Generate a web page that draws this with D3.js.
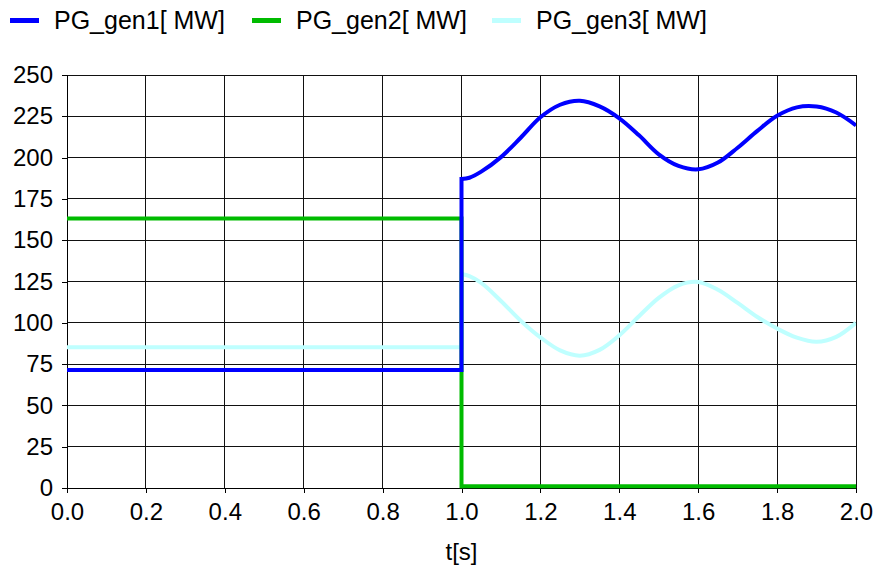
<!DOCTYPE html>
<html>
<head>
<meta charset="utf-8">
<title>PG generators</title>
<style>
    body {
        margin: 0;
        background-color: white;
        font-family: "Liberation Sans", Arial, sans-serif;
    }
    .grid line {
        stroke: #111;
        stroke-width: 1px;
        shape-rendering: crispEdges;
    }
    .axis path, .axis line {
        stroke: #000;
        shape-rendering: crispEdges;
    }
    .axis text {
        font-family: "Liberation Sans", Arial, sans-serif;
        font-size: 24px;
        fill: #000;
    }
    .series {
        fill: none;
    }
</style>
</head>
<body>
<svg id="chart" width="877" height="572"></svg>
<script src="https://d3js.org/d3.v7.min.js"></script>
<script>
// series names and colours
var names = ["PG_gen1[ MW]", "PG_gen2[ MW]", "PG_gen3[ MW]"];
var colors = ["#0000ff", "#00bb00", "#bfffff"];

// values before the switching at t = 1.0 s
var preValues = [71.4, 163.2, 85.2];

// time samples after the switching
var tPost = [1.00, 1.02, 1.05, 1.10, 1.15, 1.20, 1.25, 1.30, 1.35, 1.40, 1.45,
    1.50, 1.55, 1.60, 1.65, 1.70, 1.75, 1.80, 1.85, 1.90, 1.95, 2.00];

var gen1Post = [187, 187.8, 191.5, 200.3, 212, 224.4, 232, 234.4, 231, 223.8, 213.5,
    202, 195, 192.9, 197, 206, 216.2, 225.3, 230.4, 230.9, 227.3, 219.5];
var gen2Post = [1, 1, 1, 1, 1, 1, 1, 1, 1, 1, 1,
    1, 1, 1, 1, 1, 1, 1, 1, 1, 1, 1];
var gen3Post = [129.5, 128.2, 124.1, 113.2, 101.3, 91.2, 83.3, 80.1, 83.6, 92.4, 104,
    115.1, 122.7, 124.7, 120, 112, 103.5, 96.5, 91, 88.5, 91.5, 100];

var xTicks = [0.0, 0.2, 0.4, 0.6, 0.8, 1.0, 1.2, 1.4, 1.6, 1.8, 2.0];
var yTicks = [0, 25, 50, 75, 100, 125, 150, 175, 200, 225, 250];

var margin = { top: 75, right: 21, bottom: 84, left: 67 };
var width = 877 - margin.left - margin.right;
var height = 572 - margin.top - margin.bottom;

var svg = d3.select("#chart");
var g = svg.append("g").attr("transform", "translate(" + margin.left + "," + margin.top + ")");

var x = d3.scaleLinear().domain([0, 2]).range([0, width]);
var y = d3.scaleLinear().domain([0, 250]).range([height, 0]);

// grid
g.append("g").attr("class", "grid")
    .selectAll("line.h").data(yTicks).enter().append("line")
    .attr("x1", 0).attr("x2", width)
    .attr("y1", function(d) { return y(d); })
    .attr("y2", function(d) { return y(d); });
g.append("g").attr("class", "grid")
    .selectAll("line.v").data(xTicks).enter().append("line")
    .attr("y1", 0).attr("y2", height)
    .attr("x1", function(d) { return x(d); })
    .attr("x2", function(d) { return x(d); });

// axes
g.append("g").attr("class", "axis")
    .attr("transform", "translate(0," + height + ")")
    .call(d3.axisBottom(x).tickValues(xTicks).tickFormat(d3.format(".1f")).tickSizeOuter(0).tickSize(5).tickPadding(10));
g.append("g").attr("class", "axis")
    .call(d3.axisLeft(y).tickValues(yTicks).tickSizeOuter(0).tickSize(5).tickPadding(9));

g.append("text")
    .attr("x", width / 2)
    .attr("y", height + 72)
    .attr("text-anchor", "middle")
    .style("font-size", "24px")
    .text("t[s]");

// clip to plot area
svg.append("defs").append("clipPath").attr("id", "plot-clip")
    .append("rect").attr("width", width).attr("height", height + 2);

var postSeries = [gen1Post, gen2Post, gen3Post];
var stepLine = d3.line().x(function(d) { return x(d[0]); }).y(function(d) { return y(d[1]); });
var smoothLine = d3.line().x(function(d) { return x(d[0]); }).y(function(d) { return y(d[1]); })
    .curve(d3.curveCatmullRom.alpha(0.5));

var lines = g.append("g").attr("clip-path", "url(#plot-clip)");
// draw gen3 first, gen1 on top
[2, 1, 0].forEach(function(i) {
    var post = tPost.map(function(t, k) { return [t, postSeries[i][k]]; });
    lines.append("path")
        .attr("class", "series")
        .attr("d", stepLine([[0, preValues[i]], [1, preValues[i]], [1, post[0][1]]]))
        .attr("stroke", colors[i])
        .attr("stroke-width", 4)
        .attr("stroke-linecap", "square");
    lines.append("path")
        .attr("class", "series")
        .attr("d", smoothLine(post))
        .attr("stroke", colors[i])
        .attr("stroke-width", 4);
});

// legend
var legendX = [10, 252, 492];
var legend = svg.append("g").selectAll("g").data(names).enter().append("g")
    .attr("transform", function(d, i) { return "translate(" + legendX[i] + ",0)"; });
legend.append("line")
    .attr("x1", 0).attr("x2", 29).attr("y1", 20.5).attr("y2", 20.5)
    .attr("stroke", function(d, i) { return colors[i]; })
    .attr("stroke-width", 5);
legend.append("text")
    .attr("x", 44).attr("y", 29)
    .style("font-size", "25px")
    .text(function(d) { return d; });
</script>
</body>
</html>
